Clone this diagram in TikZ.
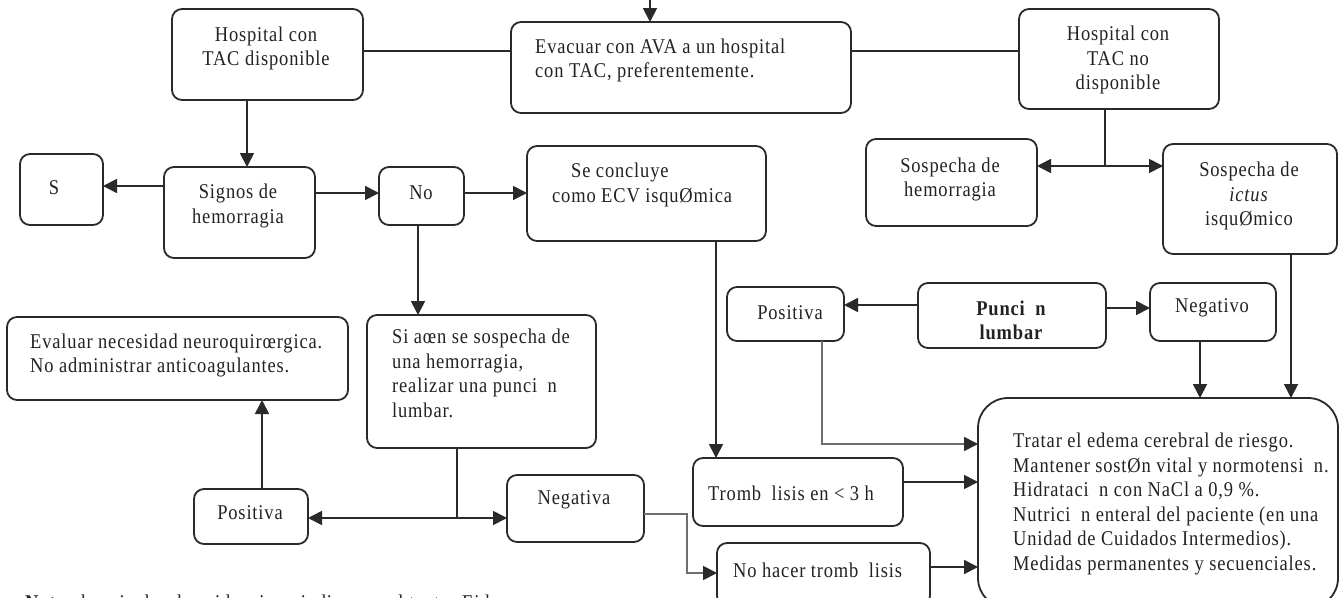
\documentclass[tikz,border=0pt]{standalone}
\usepackage{fontspec}
\setmainfont{Liberation Serif}[FakeStretch=0.88, LetterSpace=4]
\usetikzlibrary{arrows.meta}
\definecolor{ink}{HTML}{222222}
\definecolor{wire}{HTML}{2A2A2A}
\definecolor{greywire}{HTML}{6E6E6E}
% blank left where an accented vowel is missing
\newcommand\blankglyph{\hspace{0.5em}}
% rounded box from its corners: name, x1, y1, x2, y2
\newcommand\boxat[5]{\node[box, minimum width={#4-#2}, minimum height={#5-#3}] (#1) at ({(#2+#4)/2},{(#3+#5)/2}) {};}
\tikzset{
  box/.style={draw=wire, line width=1.8pt, rounded corners=10pt, inner sep=0pt, outer sep=0pt, fill=white},
  bigbox/.style={box, rounded corners=30pt},
  txt/.style={inner sep=0pt, text=ink, font=\fontsize{21}{24.6}\selectfont},
  line/.style={draw=wire, line width=1.8pt},
  arr/.style={line, -{Triangle[length=14pt, width=14pt]}},
  garr/.style={draw=greywire, line width=1.8pt, -{Triangle[length=14pt, width=14pt, color=wire]}},
}
\begin{document}
\begin{tikzpicture}[x=1pt, y=-1pt]
\useasboundingbox (0,0) rectangle (1340,597);
\clip (0,0) rectangle (1340,597);
\fill[white] (0,0) rectangle (1340,597);

% boxes
\boxat{h1}{172}{9}{363}{100}
\boxat{ev}{511}{22}{851}{113}
\boxat{h2}{1019}{9}{1219}{109}
\boxat{sh}{866}{139}{1037}{226}
\boxat{si}{1163}{144}{1337}{254}
\boxat{sg}{164}{167}{315}{258}
\boxat{s}{20}{154}{103}{225}
\boxat{no}{379}{167}{464}{225}
\boxat{sc}{527}{146}{766}{241}
\boxat{sr}{367}{315}{596}{448}
\boxat{en}{7}{317}{348}{400}
\boxat{pl}{194}{489}{308}{544}
\boxat{ng}{507}{475}{644}{542}
\boxat{tb}{693}{458}{903}{526}
\boxat{nh}{717}{543}{930}{606}
\node[bigbox, minimum width=360, minimum height=210] (tt) at (1158,503) {};
\boxat{pu}{918}{283}{1106}{348}
\boxat{pr}{727}{287}{844}{341}
\boxat{nv}{1150}{283}{1276}{341}

% texts
\node[txt, align=center] (h1-t) at (266,48.5) {Hospital con\\TAC disponible};
\node[txt, align=left, anchor=west] (ev-t) at (535,60.5) {Evacuar con AVA a un hospital\\con TAC, preferentemente.};
\node[txt, align=center] (h2-t) at (1118,60) {Hospital con\\TAC no\\disponible};
\node[txt, align=center] (sh-t) at (950,179.5) {Sospecha de\\hemorragia};
\node[txt, align=center] (si-t) at (1249,196) {Sospecha de\\\textit{ictus}\\isquØmico};
\node[txt, align=center] (sg-t) at (238,206) {Signos de\\hemorragia};
\node[txt] (s-t) at (54,188) {S};
\node[txt] (no-t) at (421,193) {No};
\node[txt, align=left, anchor=west] (sc-t) at (552,185) {\hspace*{19pt}Se concluye\\como ECV isquØmica};
\node[txt, align=left, anchor=west] (sr-t) at (392,373.5) {Si aœn se sospecha de\\una hemorragia,\\realizar una punci\blankglyph n\\lumbar.};
\node[txt, align=left, anchor=west] (en-t) at (30,355.5) {Evaluar necesidad neuroquirœrgica.\\No administrar anticoagulantes.};
\node[txt] (pl-t) at (250,513) {Positiva};
\node[txt] (ng-t) at (574,500) {Negativa};
\node[txt, anchor=west] (tb-t) at (708,493) {Tromb\blankglyph lisis en < 3 h};
\node[txt, anchor=west] (nh-t) at (733,570) {No hacer tromb\blankglyph lisis};
\node[txt, align=left, anchor=west] (tt-t) at (1013,504) {Tratar el edema cerebral de riesgo.\\Mantener sostØn vital y normotensi\blankglyph n.\\Hidrataci\blankglyph n con NaCl a 0,9 \%.\\Nutrici\blankglyph n enteral del paciente (en una\\Unidad de Cuidados Intermedios).\\Medidas permanentes y secuenciales.};
\node[txt, align=center, font=\fontsize{21}{24.6}\selectfont\bfseries] (pu-t) at (1011,320.5) {Punci\blankglyph n\\lumbar};
\node[txt, align=center] (pr-t) at (790,313) {Positiva};
\node[txt] (nv-t) at (1212,308) {Negativo};
\node[txt, anchor=base west] (note) at (25,609.5) {\textbf{Nota:} los niveles de evidencia se indican en el texto. Eid};

% connectors
\coordinate (entry) at (650,-10);
\draw[arr] (entry) -- (ev.north -| entry);
\draw[line] (h1.east |- 0,51) -- (ev.west |- 0,51);
\draw[line] (ev.east |- 0,51) -- (h2.west |- 0,51);
\draw[arr] (247,0 |- h1.south) -- (247,0 |- sg.north);
\draw[arr] (sg.west |- 0,186) -- (s.east |- 0,186);
\draw[arr] (sg.east |- 0,193) -- (no.west |- 0,193);
\draw[arr] (no.east |- 0,193) -- (sc.west |- 0,193);
\draw[arr] (418,0 |- no.south) -- (418,0 |- sr.north);
\draw[arr] (716,0 |- sc.south) -- (716,0 |- tb.north);

\coordinate (split) at (1105,166);
\draw[line] (1105,0 |- h2.south) -- (split);
\draw[arr] (split) -- (sh.east |- split);
\draw[arr] (split) -- (si.west |- split);

\coordinate (fork) at (457,518);
\draw[line] (457,0 |- sr.south) -- (fork);
\draw[arr] (fork) -- (pl.east |- fork);
\draw[arr] (fork) -- (ng.west |- fork);
\draw[arr] (262,0 |- pl.north) -- (262,0 |- en.south);

\draw[garr] (ng.east |- 0,514) -| (687,573) -- (nh.west |- 0,573);
\draw[arr] (pu.west |- 0,305) -- (pr.east |- 0,305);
\draw[arr] (pu.east |- 0,308) -- (nv.west |- 0,308);
\draw[arr] (1200,0 |- nv.south) -- (1200,0 |- tt.north);
\draw[arr] (1291,0 |- si.south) -- (1291,0 |- tt.north);
\draw[garr] (822,0 |- pr.south) |- (tt.west |- 0,444);
\draw[arr] (tb.east |- 0,482) -- (tt.west |- 0,482);
\draw[arr] (nh.east |- 0,567) -- (tt.west |- 0,567);
\end{tikzpicture}
\end{document}
